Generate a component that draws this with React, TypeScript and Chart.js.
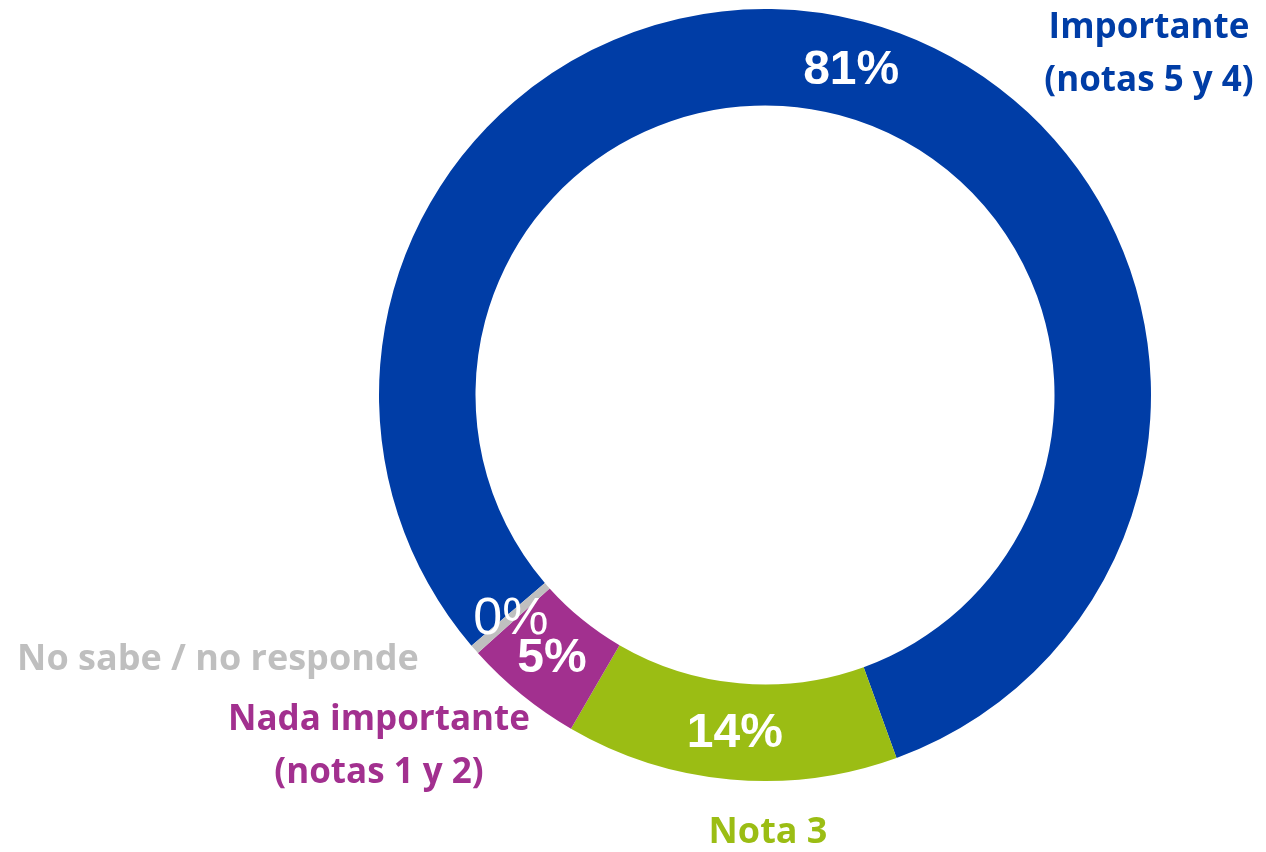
import React, { useEffect, useRef } from "react";
import { Chart, registerables } from "chart.js";

Chart.register(...registerables);

const categories = ["Importante (notas 5 y 4)", "Nota 3", "Nada importante (notas 1 y 2)", "No sabe / no responde"];
const values = [81.2, 14, 5, 0.4];
const valueLabels = ["81%", "14%", "5%", "0%"];
const colors = ["#003DA6", "#9BBD14", "#A2308F", "#BFBFBF"];
const outerLabelLines = [["Importante", "(notas 5 y 4)"], ["Nota 3"], ["Nada importante", "(notas 1 y 2)"], ["No sabe / no responde"]];

// label anchor offsets relative to doughnut centre (px)
const outerLabelOffsets = [
  [384, -367],
  [3, 438],
  [-386, 325],
  [-547, 265],
];
const outerLabelSizes = [35, 36, 35, 36];
const valueFonts = [
  "bold 48px 'Liberation Sans', Arial, sans-serif",
  "bold 48px 'Liberation Sans', Arial, sans-serif",
  "bold 48px 'Liberation Sans', Arial, sans-serif",
  "52px 'Liberation Sans', Arial, sans-serif",
];

const labelPlugin = {
  id: "labelPlugin",
  afterDatasetsDraw(chart: any) {
    const ctx = chart.ctx;
    const meta = chart.getDatasetMeta(0);
    const arc0 = meta.data[0];
    const cx = arc0.x;
    const cy = arc0.y;
    ctx.save();
    ctx.textAlign = "center";
    ctx.textBaseline = "middle";
    const order = [0, 1, 3, 2];
    order.forEach((i) => {
      const el = meta.data[i];
      const p = el.getCenterPoint();
      ctx.font = valueFonts[i];
      ctx.fillStyle = "#FFFFFF";
      ctx.fillText(valueLabels[i], p.x, p.y + 2);
    });
    outerLabelLines.forEach((lines, i) => {
      const [dx, dy] = outerLabelOffsets[i];
      ctx.font = `bold ${outerLabelSizes[i]}px 'Open Sans', Lato, sans-serif`;
      ctx.fillStyle = colors[i];
      lines.forEach((line, j) => {
        ctx.fillText(line, cx + dx, cy + dy + j * 53);
      });
    });
    ctx.restore();
  },
};

export default function App() {
  const ref = useRef<HTMLCanvasElement | null>(null);
  useEffect(() => {
    document.body.style.margin = "0";
    const canvas = ref.current!;
    const chart = new Chart(canvas, {
      type: "doughnut",
      data: {
        labels: categories,
        datasets: [
          {
            data: values,
            backgroundColor: colors,
            borderWidth: 0,
          },
        ],
      },
      options: {
        animation: false,
        responsive: false,
        cutout: "75%",
        rotation: 229.5,
        layout: { padding: { left: 379, right: 115, top: 9, bottom: 71 } },
        plugins: {
          legend: { display: false },
          tooltip: { enabled: false },
        },
      },
      plugins: [labelPlugin],
    });
    return () => chart.destroy();
  }, []);
  return (
    <div style={{ width: 1266, height: 852, background: "#fff" }}>
      <canvas ref={ref} width={1266} height={852} style={{ display: "block" }} />
    </div>
  );
}
